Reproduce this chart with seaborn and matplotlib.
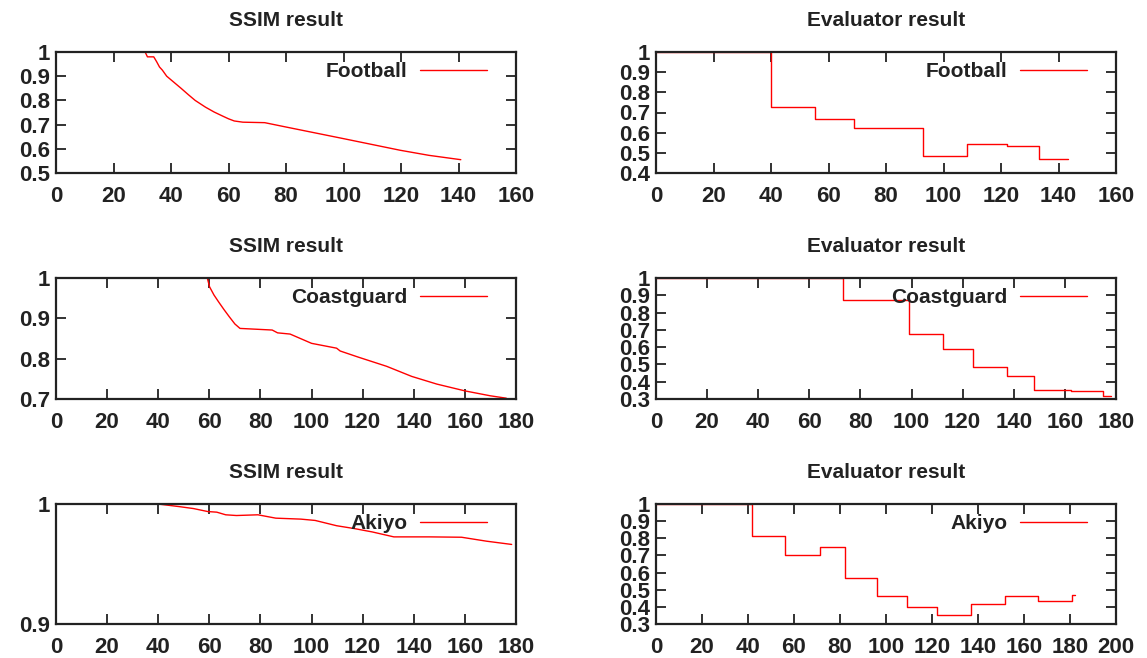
import matplotlib
matplotlib.use('Agg')
import matplotlib.pyplot as plt
import seaborn as sns
import pandas as pd
from matplotlib.ticker import FuncFormatter, MultipleLocator

# SSIM result curves (frame number -> score)
football_ssim_x = [0, 31, 31.8, 34, 35, 36, 37, 38.5, 41, 43.5, 46, 48.4, 52, 55, 58, 60, 62, 65, 72.6, 80, 100, 119.7, 129.7, 140.8]
football_ssim_y = [1.0, 1.0, 0.98, 0.98, 0.96, 0.938, 0.925, 0.9, 0.875, 0.85, 0.824, 0.8, 0.772, 0.752, 0.735, 0.724, 0.715, 0.71, 0.708, 0.69, 0.642, 0.594, 0.573, 0.555]

coast_ssim_x = [0, 59.2, 60.1, 61.8, 63.6, 65.7, 67.8, 70, 72, 84.6, 86.7, 91.6, 100, 109.8, 111.2, 118.2, 129.4, 139.2, 149, 160.1, 169.9, 176.2]
coast_ssim_y = [1.0, 1.0, 0.978, 0.958, 0.941, 0.922, 0.904, 0.886, 0.875, 0.871, 0.864, 0.861, 0.838, 0.826, 0.819, 0.804, 0.781, 0.756, 0.737, 0.72, 0.708, 0.702]

akiyo_ssim_x = [0, 39.9, 48.3, 53.8, 59.4, 62.9, 66.4, 70.6, 79, 86, 95.8, 101.4, 109.8, 116.8, 123.8, 132.2, 146.2, 158.7, 168.5, 178.3]
akiyo_ssim_y = [1.0, 1.0, 0.9978, 0.9962, 0.9937, 0.9932, 0.991, 0.9904, 0.991, 0.9882, 0.9874, 0.9863, 0.9819, 0.9795, 0.9767, 0.9726, 0.9726, 0.9723, 0.969, 0.9663]

# Evaluator result steps (value held until next x)
football_eval_x = [0, 40, 55.3, 69, 93, 108, 122.2, 133.2, 143.2]
football_eval_y = [1.0, 0.727, 0.666, 0.625, 0.484, 0.545, 0.532, 0.469, 0.469]

coast_eval_x = [0, 73.1, 99, 112.2, 124.2, 137.2, 148.1, 162.2, 175, 178.2]
coast_eval_y = [1.0, 0.875, 0.676, 0.587, 0.486, 0.434, 0.353, 0.345, 0.315, 0.315]

akiyo_eval_x = [0, 41.9, 56.2, 71.2, 82.2, 96.2, 109.2, 122.1, 137, 151.7, 166.1, 181, 182.2]
akiyo_eval_y = [1.0, 0.812, 0.70, 0.749, 0.570, 0.461, 0.399, 0.355, 0.415, 0.464, 0.432, 0.472, 0.472]

sns.set_style('white')
plt.rcParams['font.family'] = ['Liberation Sans', 'DejaVu Sans']
plt.rcParams['font.weight'] = 'bold'
ink = '#222222'

fig = plt.figure(figsize=(11.47, 6.58), dpi=100)

lefts = [56 / 1147, 656 / 1147]
width = 460 / 1147
rows = [(1 - 173 / 658, 121 / 658), (1 - 399 / 658, 121 / 658), (1 - 624 / 658, 120 / 658)]

panels = [
    ('SSIM result', 'Football', football_ssim_x, football_ssim_y, False, 160, 0.5),
    ('Evaluator result', 'Football', football_eval_x, football_eval_y, True, 160, 0.4),
    ('SSIM result', 'Coastguard', coast_ssim_x, coast_ssim_y, False, 180, 0.7),
    ('Evaluator result', 'Coastguard', coast_eval_x, coast_eval_y, True, 180, 0.3),
    ('SSIM result', 'Akiyo', akiyo_ssim_x, akiyo_ssim_y, False, 180, 0.9),
    ('Evaluator result', 'Akiyo', akiyo_eval_x, akiyo_eval_y, True, 200, 0.3),
]

fmt = FuncFormatter(lambda v, p: f'{v:g}')

for i, (title, name, xs, ys, steps, xmax, ymin) in enumerate(panels):
    bottom, height = rows[i // 2]
    ax = fig.add_axes([lefts[i % 2], bottom, width, height])
    df = pd.DataFrame({'frame': xs, 'score': ys})
    kw = dict(drawstyle='steps-post') if steps else {}
    sns.lineplot(data=df, x='frame', y='score', ax=ax, color='red', lw=1.0,
                 estimator=None, sort=False, label=name, **kw)
    ax.set_xlim(0, xmax)
    ax.set_ylim(ymin, 1.0)
    ax.xaxis.set_major_locator(MultipleLocator(20))
    ax.yaxis.set_major_locator(MultipleLocator(0.1))
    ax.xaxis.set_major_formatter(fmt)
    ax.yaxis.set_major_formatter(fmt)
    ax.set_xlabel('')
    ax.set_ylabel('')
    ax.set_title(title, fontsize=15, fontweight='bold', color=ink, pad=19)
    ax.tick_params(axis='both', which='major', direction='in', length=7, width=1.3,
                   color=ink, labelcolor=ink, labelsize=16,
                   top=True, right=True, bottom=True, left=True)
    ax.tick_params(axis='x', pad=9.5)
    ax.tick_params(axis='y', pad=4)
    for sp in ax.spines.values():
        sp.set_color(ink)
        sp.set_linewidth(1.6)
        sp.set_visible(True)
    ax.legend(loc='center right', bbox_to_anchor=(0.937, 0.835), markerfirst=False,
              frameon=False, handlelength=3.2, handletextpad=0.6, borderpad=0,
              borderaxespad=0, prop=dict(weight='bold', size=15), labelcolor=ink)

fig.savefig('out.png', dpi=100)
